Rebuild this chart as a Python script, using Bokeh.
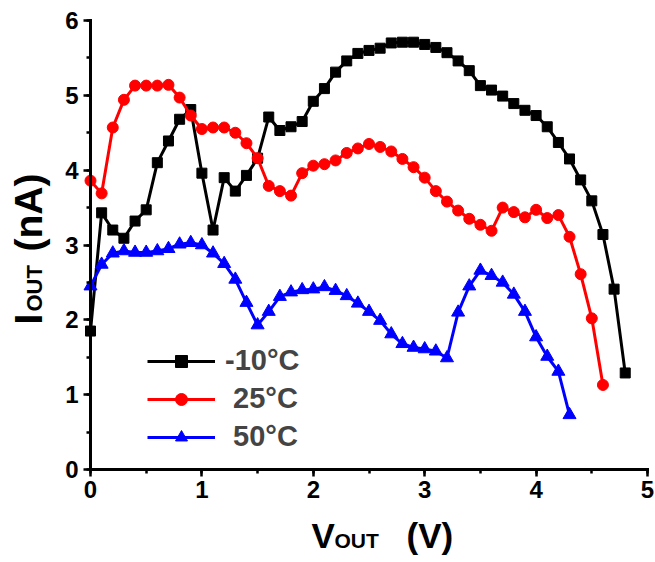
import math
from bokeh.plotting import figure
from bokeh.models import (Range1d, SingleIntervalTicker, Label, Legend, LegendItem)
from bokeh.embed import file_html
from bokeh.resources import INLINE

# ---------------- data ----------------
v_m10 = [0.0, 0.1, 0.2, 0.3, 0.4, 0.5, 0.6, 0.7, 0.8, 0.9,
         1.0, 1.1, 1.2, 1.3, 1.4, 1.5, 1.6, 1.7, 1.8, 1.9,
         2.0, 2.1, 2.2, 2.3, 2.4, 2.5, 2.6, 2.7, 2.8, 2.9,
         3.0, 3.1, 3.2, 3.3, 3.4, 3.5, 3.6, 3.7, 3.8, 3.9,
         4.0, 4.1, 4.2, 4.3, 4.4, 4.5, 4.6, 4.7, 4.8]
i_m10 = [1.85, 3.43, 3.20, 3.09, 3.32, 3.47, 4.10, 4.39, 4.68, 4.81,
         3.96, 3.20, 3.90, 3.72, 3.93, 4.16, 4.71, 4.53, 4.58, 4.65,
         4.92, 5.09, 5.31, 5.46, 5.56, 5.60, 5.63, 5.70, 5.71, 5.71,
         5.68, 5.64, 5.57, 5.46, 5.33, 5.13, 5.07, 4.99, 4.89, 4.80,
         4.73, 4.58, 4.37, 4.15, 3.87, 3.59, 3.14, 2.41, 1.29]

v_25 = [0.0, 0.1, 0.2, 0.3, 0.4, 0.5, 0.6, 0.7, 0.8, 0.9,
        1.0, 1.1, 1.2, 1.3, 1.4, 1.5, 1.6, 1.7, 1.8, 1.9,
        2.0, 2.1, 2.2, 2.3, 2.4, 2.5, 2.6, 2.7, 2.8, 2.9,
        3.0, 3.1, 3.2, 3.3, 3.4, 3.5, 3.6, 3.7, 3.8, 3.9,
        4.0, 4.1, 4.2, 4.3, 4.4, 4.5, 4.6]
i_25 = [3.86, 3.69, 4.57, 4.94, 5.13, 5.13, 5.13, 5.14, 4.97, 4.73,
        4.55, 4.57, 4.57, 4.50, 4.36, 4.16, 3.79, 3.72, 3.66, 3.96,
        4.06, 4.08, 4.13, 4.23, 4.29, 4.35, 4.31, 4.25, 4.15, 4.04,
        3.90, 3.72, 3.58, 3.46, 3.35, 3.27, 3.19, 3.50, 3.44, 3.37,
        3.47, 3.36, 3.40, 3.11, 2.61, 2.02, 1.13]

v_50 = [0.0, 0.1, 0.2, 0.3, 0.4, 0.5, 0.6, 0.7, 0.8, 0.9,
        1.0, 1.1, 1.2, 1.3, 1.4, 1.5, 1.6, 1.7, 1.8, 1.9,
        2.0, 2.1, 2.2, 2.3, 2.4, 2.5, 2.6, 2.7, 2.8, 2.9,
        3.0, 3.1, 3.2, 3.3, 3.4, 3.5, 3.6, 3.7, 3.8, 3.9,
        4.0, 4.1, 4.2, 4.3]
i_50 = [2.45, 2.74, 2.89, 2.92, 2.90, 2.90, 2.92, 2.95, 3.01, 3.03,
        3.00, 2.89, 2.75, 2.54, 2.23, 1.93, 2.11, 2.31, 2.37, 2.40,
        2.41, 2.44, 2.39, 2.32, 2.22, 2.11, 1.99, 1.81, 1.68, 1.63,
        1.61, 1.58, 1.49, 2.10, 2.45, 2.66, 2.59, 2.50, 2.34, 2.11,
        1.77, 1.51, 1.31, 0.73]

series_labels = ["-10\u00b0C", "\u00a025\u00b0C", "\u00a050\u00b0C"]
x_lim = (0, 5)
y_lim = (0, 6)

# ---------------- layout constants (canvas pixels) ----------------
W, H = 655, 562
PAGE_X0, PAGE_X1 = 90, 647      # where x=0 and x=5 sit
PAGE_Y0, PAGE_Y1 = 469, 20      # where y=0 and y=6 sit
FONT = "Liberation Sans"
MID = 0.35                      # baseline -> text-box centre, in em

sx = (PAGE_X1 - PAGE_X0) / (x_lim[1] - x_lim[0])
sy = (PAGE_Y0 - PAGE_Y1) / (y_lim[1] - y_lim[0])

def page_to_x(px):
    return x_lim[0] + (px - PAGE_X0) / sx

def page_to_y(py):
    return y_lim[0] + (PAGE_Y0 - py) / sy

# the frame spans the whole canvas; the axes are pinned at x=0 / y=0
xr = Range1d(page_to_x(0), page_to_x(W))
yr = Range1d(page_to_y(H), page_to_y(0))

p = figure(width=W, height=H, output_backend="svg", toolbar_location=None,
           x_range=xr, y_range=yr,
           min_border_left=0, min_border_right=0, min_border_top=0,
           min_border_bottom=0)
p.outline_line_color = None
p.xgrid.visible = False
p.ygrid.visible = False
p.background_fill_color = "white"
p.border_fill_color = "white"

p.xaxis.fixed_location = y_lim[0]
p.xaxis.bounds = x_lim
p.yaxis.fixed_location = x_lim[0]
p.yaxis.bounds = y_lim

for ax in (p.xaxis[0], p.yaxis[0]):
    ax.ticker = SingleIntervalTicker(interval=1, num_minor_ticks=2)
    ax.axis_line_width = 3
    ax.axis_line_color = "black"
    ax.axis_line_cap = "square"
    ax.major_tick_line_width = 2.5
    ax.minor_tick_line_width = 2.5
    ax.major_tick_out = 7
    ax.major_tick_in = 0
    ax.minor_tick_out = 4
    ax.minor_tick_in = 0
    ax.major_label_text_font = FONT
    ax.major_label_text_font_style = "bold"
    ax.major_label_text_font_size = "24px"
    ax.major_label_text_color = "black"
p.xaxis.major_label_standoff = 4
p.yaxis.major_label_standoff = 5

# ---------------- series ----------------
l1 = p.line(v_m10, i_m10, line_color="black", line_width=3)
s1 = p.scatter(v_m10, i_m10, marker="square", size=10, fill_color="black",
               line_color="black")
l2 = p.line(v_25, i_25, line_color="#ff0000", line_width=3)
s2 = p.scatter(v_25, i_25, marker="circle", size=11, fill_color="#ff0000",
               line_color="#ff0000")
l3 = p.line(v_50, i_50, line_color="#0000ff", line_width=3)
s3 = p.scatter(v_50, i_50, marker="triangle", size=13, fill_color="#0000ff",
               line_color="#0000ff")

# legend: left edge at x 147, bottom at y 453
legend = Legend(items=[LegendItem(label=series_labels[0], renderers=[l1, s1]),
                       LegendItem(label=series_labels[1], renderers=[l2, s2]),
                       LegendItem(label=series_labels[2], renderers=[l3, s3])],
                location=(147, H - 453))
legend.label_text_font = FONT
legend.label_text_font_style = "bold"
legend.label_text_font_size = "29px"
legend.glyph_width = 68
legend.glyph_height = 30
legend.label_height = 30
legend.spacing = 5
legend.padding = 0
legend.margin = 0
legend.label_standoff = 10
legend.border_line_color = None
legend.background_fill_alpha = 0
p.add_layout(legend)

# ---------------- axis titles (with subscripts) ----------------
def add_text(text, px, baseline, size, rotated=False):
    """Place text whose alphabetic baseline sits at `baseline` (page px)."""
    off = MID * size
    if rotated:
        x, y, ang = page_to_x(baseline - off), page_to_y(px), math.pi / 2
    else:
        x, y, ang = page_to_x(px), page_to_y(baseline - off), 0.0
    p.add_layout(Label(x=x, y=y, text=text, angle=ang,
                       text_font=FONT, text_font_style="bold",
                       text_font_size=f"{size}px", text_color="black",
                       text_align="left", text_baseline="middle"))

# x title: V_OUT (V)   (baseline at y = 547)
add_text("V", 311, 547, 35)
add_text("OUT", 334, 547, 21)
add_text("(V)", 406, 547, 35)

# y title: I_OUT (nA), rotated  (baseline at x = 42, text runs upward)
add_text("I", 324, 42, 39, rotated=True)
add_text("OUT", 311, 42, 22, rotated=True)
add_text("(nA)", 251, 42, 39, rotated=True)

open("out.html", "w").write(file_html(p, INLINE))
